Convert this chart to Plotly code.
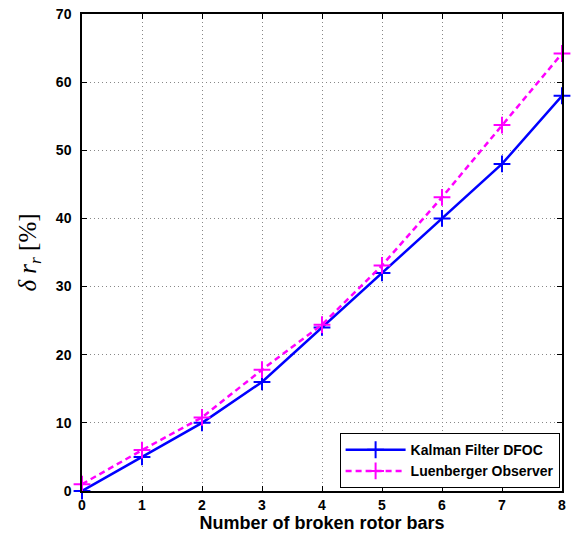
import plotly.graph_objects as go

bars = [0, 1, 2, 3, 4, 5, 6, 7, 8]
kalman = [0, 5, 10, 16, 24, 32, 40, 48, 58]
luenberger = [1, 6, 10.8, 17.8, 24.4, 33.1, 43.1, 53.7, 64.2]

fig = go.Figure()
fig.add_trace(go.Scatter(
    x=bars, y=kalman, mode="lines+markers", name="Kalman Filter DFOC",
    line=dict(color="#0000ff", width=2.5),
    marker=dict(symbol="cross-thin", size=12, line=dict(color="#0000ff", width=2)),
    cliponaxis=False,
))
fig.add_trace(go.Scatter(
    x=bars, y=luenberger, mode="lines+markers", name="Luenberger Observer",
    line=dict(color="#ff00ff", width=2.5, dash="6px,4px"),
    marker=dict(symbol="cross-thin", size=12, line=dict(color="#ff00ff", width=2)),
    cliponaxis=False,
))

axis_common = dict(
    showline=True, linecolor="black", linewidth=1.5, mirror="ticks",
    ticks="inside", ticklen=5, tickcolor="black",
    showgrid=True, gridcolor="#888888", griddash="1px,3px", gridwidth=1,
    zeroline=False,
    tickfont=dict(family="Liberation Sans, Arial", size=14, color="black", weight="bold"),
)

fig.update_xaxes(
    range=[0, 8], dtick=1, **axis_common,
    title=dict(text="<b>Number of broken rotor bars</b>", standoff=3,
               font=dict(family="Liberation Sans, Arial", size=18, color="black")),
)
fig.update_yaxes(
    range=[0, 70], dtick=10, ticklabelstandoff=6, **axis_common,
    title=dict(text="<i>δ r</i><sub><i>r</i></sub> [%]", standoff=12,
               font=dict(family="Liberation Serif, Times New Roman", size=25, color="black")),
)

fig.update_layout(
    width=572, height=536,
    margin=dict(l=82, r=6, t=14, b=45),
    plot_bgcolor="white", paper_bgcolor="white",
    legend=dict(
        x=0.995, y=0.006, xanchor="right", yanchor="bottom",
        bgcolor="white", bordercolor="black", borderwidth=1,
        font=dict(family="Liberation Sans, Arial", size=14, color="black", weight="bold"),
        itemwidth=60, tracegroupgap=0,
    ),
    showlegend=True,
)

fig.write_html("out.html", config={"displayModeBar": False},
               post_script="document.body.style.margin='0';")
